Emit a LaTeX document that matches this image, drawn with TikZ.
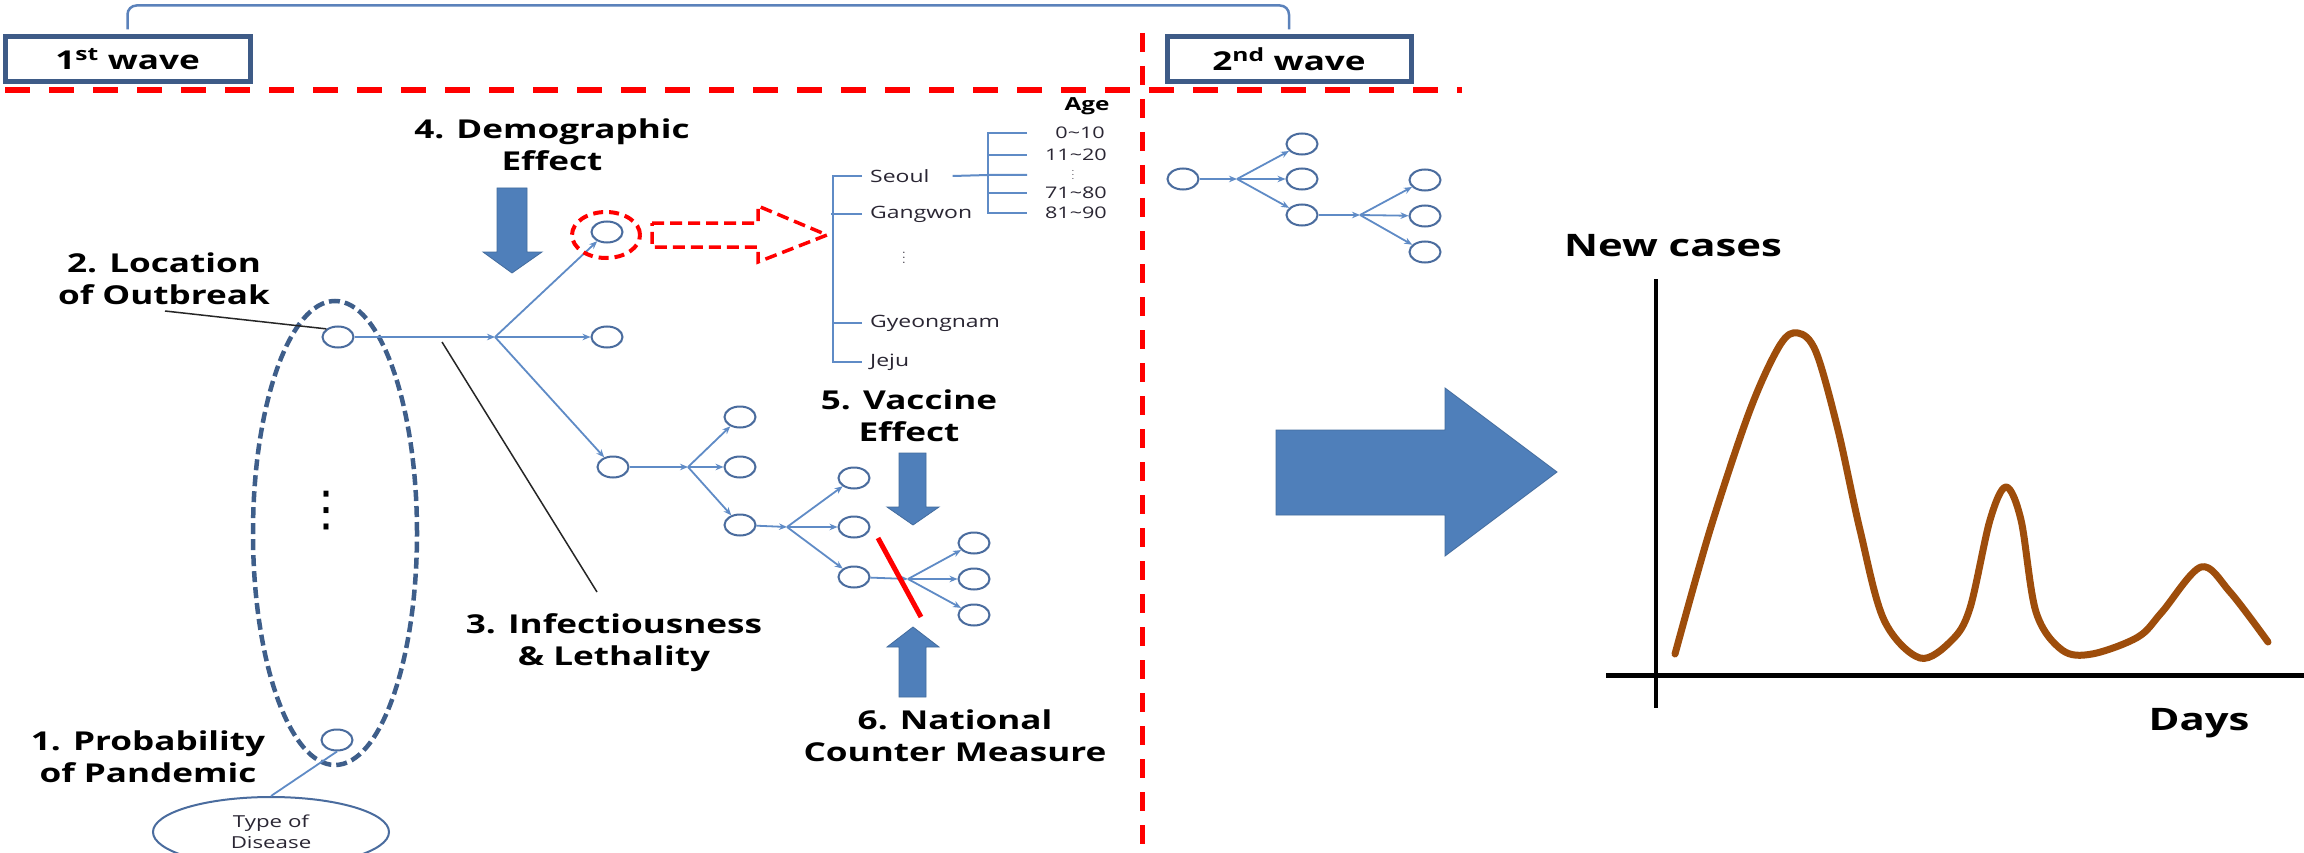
\documentclass[tikz,border=0pt]{standalone}
\usepackage{fontspec}
\usetikzlibrary{arrows.meta,shapes.geometric}
\newfontfamily\labfont{Open Sans}[FakeStretch=1.35]
\newfontfamily\symfont{DejaVu Sans}
\definecolor{nodeblue}{HTML}{4A6C9E}
\definecolor{lineblue}{HTML}{5F8BC6}
\definecolor{arrowblue}{HTML}{4F7FBA}
\definecolor{dashblue}{HTML}{3E5E8A}
\definecolor{boxblue}{HTML}{3E5B87}
\definecolor{brack}{HTML}{5B82BB}
\definecolor{curvebrown}{HTML}{9E4D0B}
\definecolor{agetext}{HTML}{2A2633}
\begin{document}
\begin{tikzpicture}[x=1pt,y=-1pt,
  circ/.style={ellipse, draw=nodeblue, line width=2pt, fill=white,
    minimum width=31pt, minimum height=21pt, inner sep=0pt},
  edge/.style={draw=lineblue, line width=1.8pt, -{Stealth[length=8pt,width=6.5pt]}},
  lab/.style={font=\labfont\bfseries\fontsize{26}{32}\selectfont, align=center,
    inner sep=0pt, text=black},
  wavebox/.style={draw=boxblue, line width=5pt, fill=white, inner sep=0pt,
    font=\labfont\bfseries\fontsize{26}{30}\selectfont},
  reddash/.style={draw=red, line width=5.5pt},
  agel/.style={draw=lineblue, line width=2pt},
  region/.style={font=\labfont\fontsize{17}{20}\selectfont, text=agetext,
    inner sep=0pt, anchor=west},
  agenum/.style={font=\labfont\fontsize{16}{18}\selectfont, text=agetext,
    inner sep=0pt, anchor=east},
  bigarrow/.style={fill=arrowblue, draw=arrowblue!85!black, line width=0.8pt},
  leader/.style={draw=black!85, line width=1.5pt}]

\useasboundingbox (0,0) rectangle (2304,853);
\fill[white] (0,0) rectangle (2304,853);

% ---- wave boxes and bracket ----
\node[wavebox, minimum width=245pt, minimum height=45pt] (w1) at (127.5,59.5) {1\textsuperscript{st} wave};
\node[wavebox, minimum width=244pt, minimum height=45pt] (w2) at (1289,59.5) {2\textsuperscript{nd} wave};
\draw[brack, line width=2.5pt, rounded corners=9pt]
  ([yshift=5pt]w1.north) -- ++(0,-24) -| ([yshift=5pt]w2.north);

% ---- red separators ----
\draw[reddash, dash pattern=on 25pt off 19pt] (5,90) -- (1462,90);
\draw[reddash, line width=5pt, dash pattern=on 19pt off 14pt] (1142,33) -- (1142,853);

% ---- starting scenarios ----
\draw[dashblue, line width=4.5pt, dash pattern=on 11pt off 5pt] (335,533) ellipse [x radius=82pt, y radius=232pt];
\node[circ] (n0) at (338,337) {};
\node[circ] (nb) at (337,740) {};
\node[inner sep=0pt, font=\symfont\fontsize{48}{48}\selectfont] (dots) at (326,511) {⋮};
\node[ellipse, draw=nodeblue, line width=2pt, fill=white, minimum width=236pt,
  minimum height=70pt, inner sep=0pt, align=center,
  font=\labfont\fontsize{16.5}{21}\selectfont, text=agetext] (tod) at (271,832) {Type of\\Disease};
\draw[draw=lineblue, line width=1.8pt] (nb.south) -- (tod.north);

% ---- first-wave tree ----
\coordinate (b1) at (495,337);
\node[circ] (n1a) at (607,232) {};
\node[circ] (n1b) at (607,337) {};
\node[circ] (n1c) at (613,467) {};
\draw[edge] (n0) -- (b1);
\draw[edge] (b1) -- (n1a);
\draw[edge] (b1) -- (n1b);
\draw[edge] (b1) -- (n1c);

\coordinate (b2) at (688,467);
\node[circ] (n2a) at (740,417) {};
\node[circ] (n2b) at (740,467) {};
\node[circ] (n2c) at (740,525) {};
\draw[edge] (n1c) -- (b2);
\draw[edge] (b2) -- (n2a);
\draw[edge] (b2) -- (n2b);
\draw[edge] (b2) -- (n2c);

\coordinate (b3) at (787,527);
\node[circ] (n3a) at (854,478) {};
\node[circ] (n3b) at (854,527) {};
\node[circ] (n3c) at (854,577) {};
\draw[edge] (n2c) -- (b3);
\draw[edge] (b3) -- (n3a);
\draw[edge] (b3) -- (n3b);
\draw[edge] (b3) -- (n3c);

\coordinate (b4) at (908,579);
\node[circ] (n4a) at (974,543) {};
\node[circ] (n4b) at (974,579) {};
\node[circ] (n4c) at (974,615) {};
\draw[edge] (n3c) -- (b4);
\draw[edge] (b4) -- (n4a);
\draw[edge] (b4) -- (n4b);
\draw[edge] (b4) -- (n4c);

% cut of transmission
\coordinate (cutA) at (878,538);
\coordinate (cutB) at (921,617);
\draw[red, line width=5pt] (cutA) -- (cutB);

% highlighted region and its breakdown
\draw[red, line width=4pt, dash pattern=on 10pt off 6pt] (606,235) ellipse [x radius=34pt, y radius=23pt];
\draw[red, line width=3.5pt, dash pattern=on 12pt off 6pt, line join=miter]
  (652,223) -- (758,223) -- (758,206) -- (827,235) -- (758,262) -- (758,247) -- (652,247) -- cycle;

% ---- region / age breakdown ----
\node[font=\labfont\bfseries\fontsize{18}{20}\selectfont, inner sep=0pt] (age) at (1087,106) {Age};
\node[region] (seoul) at (870,176) {Seoul};
\node[region] (gangwon) at (870,214) {Gangwon};
\node[inner sep=0pt, text=agetext] (rdots) at (904,254) {\scalebox{1.3}{$\vdots$}};
\node[region] (gyeong) at (870,323) {Gyeongnam};
\node[region] (jeju) at (870,362) {Jeju};
\draw[agel] ([xshift=-8pt]seoul.west) -- ++(-29,0) |- ([xshift=-8pt]jeju.west);
\draw[agel] ([xshift=-8pt]gangwon.west) -- ++(-31,0);
\draw[agel] ([xshift=-8pt]gyeong.west) -- ++(-29,0);

\node[agenum] (a1) at (1105,133) {0\textasciitilde 10};
\node[agenum] (a2) at (1107,155) {11\textasciitilde 20};
\node[inner sep=0pt, text=agetext] (adots) at (1073,172) {\scalebox{1.0}{$\vdots$}};
\node[agenum] (a3) at (1107,193) {71\textasciitilde 80};
\node[agenum] (a4) at (1107,213) {81\textasciitilde 90};
\coordinate (vx) at (988,0);
\coordinate (tx) at (1027,0);
\coordinate (ab) at (988,175);
\draw[agel] ([xshift=23pt]seoul.east) -- (ab) -- (ab -| tx);
\draw[agel] (a1.west -| tx) -- (a1.west -| vx) -- (a4.west -| vx) -- (a4.west -| tx);
\draw[agel] (a2.west -| vx) -- (a2.west -| tx);
\draw[agel] (a3.west -| vx) -- (a3.west -| tx);

% ---- factor labels ----
\node[lab] (l4) at (552,145) {4. Demographic\\Effect};
\node[lab] (l2) at (164,279) {2. Location\\of Outbreak};
\node[lab] (l3) at (614,643) {3. Infectiousness\\\& Lethality};
\node[lab] (l1) at (148,757) {1. Probability\\of Pandemic};
\node[lab] (l5) at (909,416) {5. Vaccine\\Effect};
\node[lab] (l6) at (955,736) {6. National\\Counter Measure};

\coordinate (l2end) at (165,311);
\draw[leader] (l2end) -- (n0.north west);
\coordinate (l3a) at (442,342);
\coordinate (l3b) at (597,592);
\draw[leader] (l3a) -- (l3b);

% block arrows
\draw[bigarrow] (497,188) -- (527,188) -- (527,252) -- (542,252) -- (512,273) -- (483,252) -- (497,252) -- cycle;
\draw[bigarrow] (899,453) -- (926,453) -- (926,507) -- (939,507) -- (913,525) -- (887,507) -- (899,507) -- cycle;
\draw[bigarrow] (899,697) -- (926,697) -- (926,647) -- (939,647) -- (913,627) -- (887,647) -- (899,647) -- cycle;

% ---- second-wave tree ----
\node[circ] (m0) at (1183,179) {};
\coordinate (c1) at (1237,179);
\node[circ] (m1a) at (1302,144) {};
\node[circ] (m1b) at (1302,179) {};
\node[circ] (m1c) at (1302,215) {};
\draw[edge] (m0) -- (c1);
\draw[edge] (c1) -- (m1a);
\draw[edge] (c1) -- (m1b);
\draw[edge] (c1) -- (m1c);
\coordinate (c2) at (1360,215);
\node[circ] (m2a) at (1425,180) {};
\node[circ] (m2b) at (1425,216) {};
\node[circ] (m2c) at (1425,252) {};
\draw[edge] (m1c) -- (c2);
\draw[edge] (c2) -- (m2a);
\draw[edge] (c2) -- (m2b);
\draw[edge] (c2) -- (m2c);

% ---- result arrow ----
\draw[bigarrow] (1276,430) -- (1445,430) -- (1445,388) -- (1557,472) -- (1445,556) -- (1445,515) -- (1276,515) -- cycle;

% ---- epidemic curve ----
\draw[black, line width=3.5pt] (1656,279) -- (1656,708);
\draw[black, line width=5pt] (1606,675) -- (2304,675);
\node[lab, font=\labfont\bfseries\fontsize{31}{34}\selectfont] (ny) at (1673,246) {New cases};
\node[lab, font=\labfont\bfseries\fontsize{31}{34}\selectfont] (nx) at (2199,723) {Days};
\draw[curvebrown, line width=7pt, line cap=round, line join=round]
  plot[smooth, tension=0.55] coordinates {
   (1675,654) (1710,530) (1750,410) (1780,345) (1798,333) (1816,352)
   (1838,430) (1860,530) (1884,620) (1920,658) (1952,640) (1970,608)
   (1990,520) (2006,487) (2021,520) (2036,612) (2062,650) (2092,654)
   (2138,637) (2162,612) (2201,567) (2230,592) (2268,642)};

\end{tikzpicture}
\end{document}
